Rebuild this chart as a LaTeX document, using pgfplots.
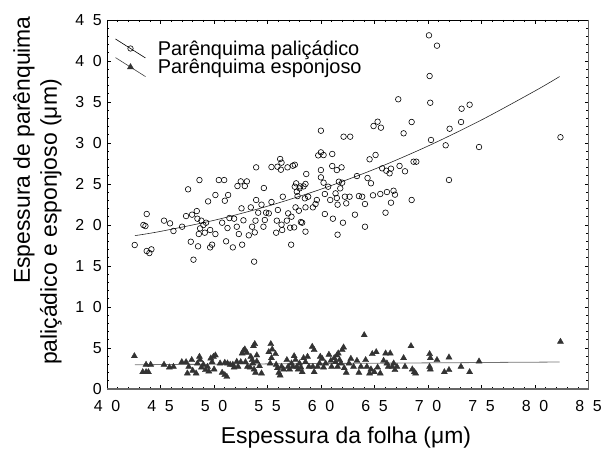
\documentclass[border=0pt]{standalone}
\usepackage{fontspec}
\setmainfont{Liberation Sans}
\usepackage{pgfplots}
\pgfplotsset{compat=1.18}
\newcommand\dsp{\hspace{0.55em}}
\begin{document}
\begin{tikzpicture}
\useasboundingbox (-107bp,-61bp) rectangle (496bp,389bp);
\begin{axis}[
  at={(0,0)}, anchor=south west,
  scale only axis, width=481.5bp, height=369bp,
  xmin=40, xmax=85, ymin=0, ymax=45,
  xtick={40,45,...,85},
  xticklabels={4\dsp0,4\dsp5,5\dsp0,5\dsp5,6\dsp0,6\dsp5,7\dsp0,7\dsp5,8\dsp0,8\dsp5},
  ytick={0,5,...,45},
  yticklabels={0,5,1\dsp0,1\dsp5,2\dsp0,2\dsp5,3\dsp0,3\dsp5,4\dsp0,4\dsp5},
  minor tick num=4,
  tick align=inside,
  major tick length=4bp, minor tick length=2.2bp,
  every tick/.style={black, line width=0.6bp},
  axis line style={black, line width=0.7bp},
  tick label style={font=\fontsize{16}{19}\selectfont, inner sep=0pt},
  xticklabel style={anchor=base, yshift=-22.5bp},
  yticklabel style={anchor=east, xshift=-5bp},
  clip=false,
  legend image code/.code={\draw[mark repeat=2,mark phase=2,#1] plot coordinates {(0bp,9.5bp) (15bp,0bp) (30bp,-9.5bp)};},
  legend style={at={(axis description cs:0,1)}, anchor=north west, xshift=8bp, yshift=-18.5bp,
    draw=none, fill=none, inner sep=0pt, nodes={inner sep=0pt}, column sep=12bp, row sep=-1bp,
    font=\fontsize{20}{24}\selectfont},
  legend cell align=left,
]
\addlegendimage{black, line width=0.6bp, mark=o, mark size=2.7bp, mark options={fill=white, solid}}
\addlegendentry{Parênquima paliçádico}
\addlegendimage{black!75, line width=0.6bp, mark=triangle*, mark size=3.4bp, mark options={fill=black!80, draw=black!80}}
\addlegendentry{Parênquima esponjoso}

\addplot[only marks, mark=o, mark size=2.8bp, black, line width=0.6bp, forget plot] table {
42.59 17.56
43.71 21.34
43.40 20.00
43.59 19.87
43.71 16.83
43.96 16.58
44.15 17.03
45.33 20.53
45.89 20.20
46.21 19.27
47.02 19.79
47.39 21.09
47.58 24.35
47.83 17.96
47.95 21.26
48.08 15.77
48.39 21.70
48.45 20.77
48.51 17.40
48.64 25.48
48.58 18.90
48.70 19.59
48.82 20.53
49.01 20.00
49.14 19.06
49.26 20.28
49.45 22.88
49.64 19.39
49.64 17.27
49.82 17.60
50.13 23.66
50.13 18.90
50.45 25.48
50.95 25.48
50.76 20.28
51.01 22.96
51.13 18.01
51.26 19.63
51.32 23.66
51.44 20.85
51.76 17.27
51.88 20.77
52.19 24.75
52.13 19.79
52.32 18.90
52.50 25.32
52.88 24.75
53.07 25.32
52.57 22.03
52.63 17.60
52.75 20.57
53.25 18.74
53.44 22.15
53.56 19.79
53.75 15.53
53.81 19.10
53.88 20.53
53.94 23.05
53.94 27.03
54.13 21.50
54.44 22.48
54.62 19.79
54.66 24.51
54.75 20.61
54.87 21.50
55.12 21.42
55.37 22.80
55.37 27.07
55.81 19.06
55.87 20.53
55.97 21.83
55.93 27.11
56.18 28.05
56.31 27.60
56.25 26.74
56.31 20.04
56.37 19.39
56.43 23.45
56.81 20.53
56.87 27.03
56.93 21.42
57.12 19.67
57.24 21.01
57.21 17.60
57.37 27.23
57.55 27.35
57.49 19.71
57.62 22.15
57.55 24.67
57.68 25.08
57.74 24.06
57.81 23.53
57.93 21.74
58.00 24.47
58.05 24.71
58.12 20.36
58.24 20.28
58.37 24.71
58.49 23.25
58.55 22.15
58.55 19.19
58.62 26.22
58.55 25.00
58.80 23.45
59.24 22.15
59.49 22.56
59.61 23.05
59.74 28.49
59.99 28.86
60.24 28.53
59.99 31.50
59.99 26.70
59.99 25.81
60.24 25.16
60.36 23.78
60.36 21.34
60.67 24.67
60.86 23.05
61.05 28.66
61.05 27.19
61.11 20.77
61.36 23.86
61.48 26.70
61.48 23.29
61.55 22.48
61.55 18.82
61.67 25.28
61.80 24.47
61.92 27.03
61.98 25.16
62.05 20.28
62.11 30.77
62.73 30.77
62.23 23.45
62.36 22.64
62.67 23.45
63.17 21.26
63.36 25.97
63.54 23.53
63.85 23.45
64.11 22.56
64.11 19.79
64.35 25.73
64.54 28.01
64.67 25.09
64.86 23.62
64.91 32.07
65.10 28.54
65.29 32.60
65.54 23.78
65.60 31.87
65.72 26.91
66.03 21.50
66.10 26.62
66.16 24.02
66.41 26.30
66.54 26.87
66.54 22.72
66.78 24.18
66.91 23.70
67.22 35.33
67.34 27.20
67.72 31.18
67.85 26.55
68.47 32.56
68.47 23.05
68.65 27.72
68.91 27.72
70.09 43.13
70.15 38.17
70.21 34.91
70.28 30.37
70.84 41.87
71.65 29.72
71.96 25.49
72.02 31.74
73.09 32.56
73.14 34.18
73.89 34.67
74.77 29.51
82.38 30.70
};

\addplot[only marks, mark=triangle*, mark size=3.5bp, draw=black!80, fill=black!80, forget plot] table {
42.56 4.02
43.34 2.07
43.65 2.07
43.87 2.07
43.65 2.97
44.08 2.97
45.33 2.97
45.83 2.64
46.21 2.72
46.99 3.29
47.39 3.29
47.51 1.91
47.64 2.72
47.92 3.54
48.01 2.24
48.33 1.91
48.45 3.13
48.64 3.94
48.70 3.54
48.83 2.64
49.01 2.97
49.20 2.32
49.39 2.72
49.51 2.15
49.70 3.74
49.95 3.94
50.13 4.11
49.82 3.29
50.01 2.40
50.57 3.13
50.76 1.99
51.01 1.71
51.20 1.50
51.01 3.21
51.26 3.13
51.51 2.97
51.76 2.97
51.88 2.64
52.13 3.33
52.25 2.72
52.50 3.29
52.63 4.35
52.75 4.67
52.88 4.84
53.07 4.43
52.94 3.29
53.13 2.72
53.38 2.64
53.44 3.94
53.57 3.54
53.63 3.13
53.69 5.24
53.81 5.49
53.75 2.40
53.88 1.99
54.00 4.11
54.00 3.37
54.25 2.80
54.44 1.91
55.12 4.51
55.31 5.49
55.44 4.84
55.25 3.13
55.37 3.78
55.75 4.27
55.81 2.97
55.93 2.56
56.06 1.99
56.18 1.67
56.31 2.72
56.50 2.40
56.81 3.54
56.93 2.72
57.06 2.40
57.24 3.13
57.37 2.72
57.49 4.02
57.62 3.54
57.74 2.72
57.87 2.40
57.99 3.13
58.12 2.64
58.24 2.07
58.37 3.78
58.55 3.29
58.74 3.94
58.87 2.72
59.18 5.16
59.36 4.76
59.24 2.72
59.36 2.07
59.68 2.72
59.86 3.13
59.93 3.94
60.11 3.70
60.24 2.64
60.43 3.13
60.74 4.19
60.92 3.45
60.99 2.72
61.24 3.78
61.36 3.29
61.49 4.11
61.61 4.35
61.55 2.72
61.74 3.54
61.86 3.13
61.98 4.76
62.11 5.08
62.17 2.56
62.36 1.99
62.61 3.13
62.79 3.70
63.04 2.72
63.36 3.45
63.54 1.99
63.73 2.72
64.04 6.58
64.17 3.54
64.29 2.72
64.54 1.91
64.67 2.40
64.79 4.27
64.98 2.07
65.16 4.51
65.29 2.64
65.54 1.91
65.85 3.45
66.04 4.35
66.16 3.13
66.29 2.72
66.47 4.35
66.66 2.72
66.79 3.13
66.91 2.32
67.10 2.72
67.72 3.78
67.85 2.72
68.41 5.24
68.53 2.40
68.72 2.07
68.84 1.91
70.15 4.27
70.22 3.78
70.15 2.72
70.22 2.40
70.84 3.54
71.53 2.07
71.96 2.32
71.96 3.86
73.08 2.72
73.89 2.07
74.77 3.37
82.38 5.77
};

% fitted curves
\addplot[black!85, line width=0.6bp, smooth, forget plot] coordinates {
(42.6,18.70) (45,19.22) (50,20.57) (55,22.29) (60,24.37) (65,26.81) (70,29.63) (75,32.81) (80,36.35) (82.3,38.10)
};
\addplot[black!55, line width=0.8bp, forget plot] coordinates {
(42.6,2.96) (82.3,3.29)
};

% grey shadow on bottom and right frame
\draw[black!60, line width=1.6bp] (rel axis cs:0,0) -- (rel axis cs:1,0) -- (rel axis cs:1,1);
\end{axis}
\node[rotate=90, anchor=base, font=\fontsize{23}{27}\selectfont] at (-77bp,239bp) {Espessura de parênquima};
\node[rotate=90, anchor=base, font=\fontsize{23}{27}\selectfont] at (-50bp,167bp) {paliçádico e esponjoso (μm)};
\node[anchor=base, font=\fontsize{23}{27}\selectfont] at (239bp,-54bp) {Espessura da folha (μm)};
\end{tikzpicture}
\end{document}
